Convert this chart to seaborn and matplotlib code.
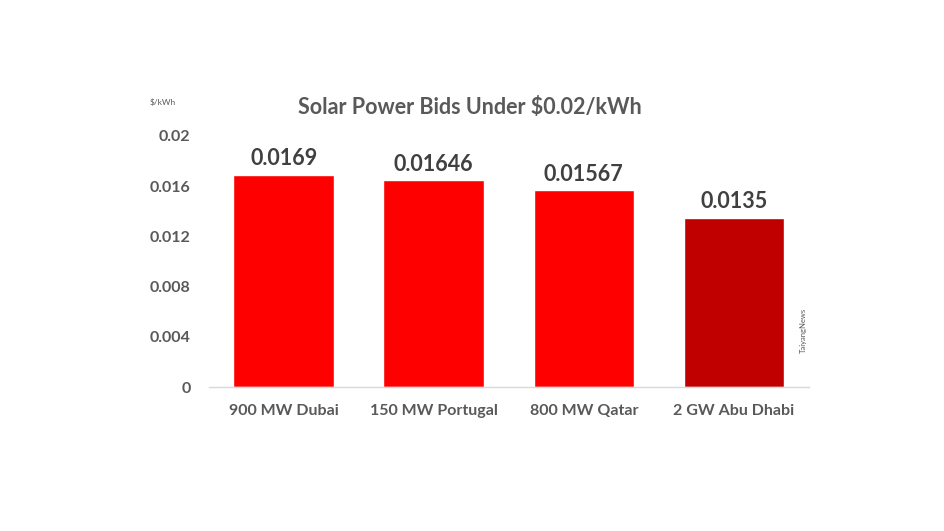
import numpy as np
import pandas as pd
import seaborn as sns
import matplotlib.pyplot as plt

projects = ["900 MW Dubai", "150 MW Portugal", "800 MW Qatar", "2 GW Abu Dhabi"]
bids = [0.0169, 0.01646, 0.01567, 0.0135]
bid_labels = ["0.0169", "0.01646", "0.01567", "0.0135"]
bar_colors = ["#FF0000", "#FF0000", "#FF0000", "#C00000"]
yticks = [0, 0.004, 0.008, 0.012, 0.016, 0.02]
ytick_labels = ["0", "0.004", "0.008", "0.012", "0.016", "0.02"]

df = pd.DataFrame({"project": projects, "bid": bids})

sns.set_style("white")
plt.rcParams['font.family'] = ['Lato', 'DejaVu Sans']

fig = plt.figure(figsize=(9.44, 5.31), dpi=100)
ax = fig.add_axes([0.221, 0.271, 0.636, 0.473])

sns.barplot(data=df, x="project", y="bid", hue="project", palette=bar_colors,
            width=0.67, legend=False, ax=ax, saturation=1)

for i, (v, lab) in enumerate(zip(bids, bid_labels)):
    ax.text(i, v + 0.00045, lab, ha="center", va="bottom", fontsize=15.5,
            fontweight="bold", color="#404040")

ax.set_xlim(-0.5, 3.5)
ax.set_ylim(0, 0.02)
ax.set_yticks(yticks)
ax.set_yticklabels(ytick_labels)
ax.set_xlabel("")
ax.set_ylabel("")
ax.tick_params(axis="both", length=0, labelsize=11.5, labelcolor="#595959")
ax.tick_params(axis="y", pad=13)
ax.tick_params(axis="x", pad=12)
for t in ax.get_xticklabels() + ax.get_yticklabels():
    t.set_fontweight("bold")

for s in ["top", "right", "left"]:
    ax.spines[s].set_visible(False)
ax.spines["bottom"].set_color("#D9D9D9")
ax.spines["bottom"].set_linewidth(1)

fig.text(0.498, 0.797, "Solar Power Bids Under $0.02/kWh", ha="center", va="center",
         fontsize=15.5, fontweight="bold", color="#595959")
fig.text(0.159, 0.808, "$/kWh", ha="left", va="center", fontsize=6, color="#595959")
fig.text(0.851, 0.378, "TaiyangNews", rotation=90, ha="center", va="center",
         fontsize=5.5, color="#595959")

fig.savefig("out.png", dpi=100, facecolor="white")
